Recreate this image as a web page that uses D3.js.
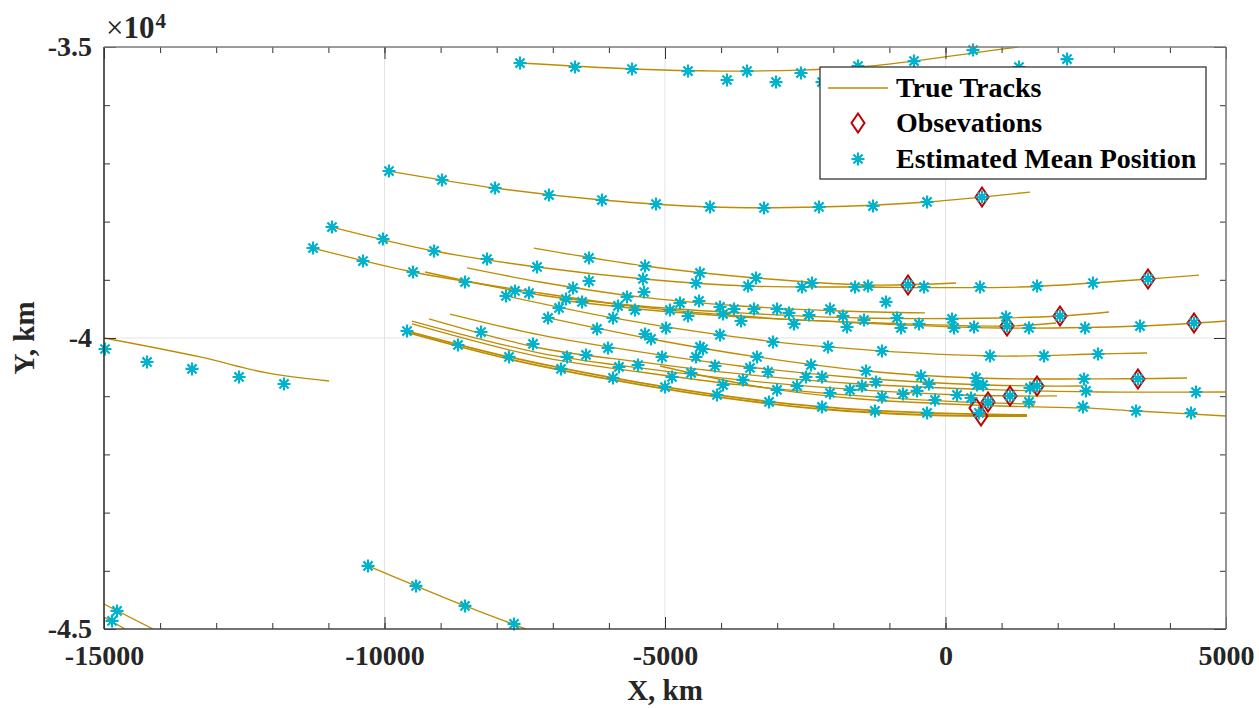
<!DOCTYPE html>
<html><head><meta charset="utf-8">
<script src="https://cdn.jsdelivr.net/npm/d3@7"></script>
<style>body{margin:0;background:#fff} svg{display:block}</style>
</head><body>
<svg id="chart" width="1259" height="708"></svg>
<script>
// ---------- axis data ----------
const xDomain = [-15000, 5000];
const yDomain = [-45000, -35000];
const xMajorTicks = [-15000, -10000, -5000, 0, 5000];
const xTickLabels = ["-15000", "-10000", "-5000", "0", "5000"];
const yMajorTicks = [-45000, -40000, -35000];
const yTickLabels = ["-4.5", "-4", "-3.5"];
const xMinorTicks = d3.range(-15000, 5001, 1000);
const yMinorTicks = d3.range(-45000, -34999, 1000);
const gridX = [-10000, -5000, 0];
const gridY = [-40000];
const legendLabels = ["True Tracks", "Obsevations", "Estimated Mean Position"];

// ---------- true tracks (km) ----------
const trackTop = [[-7585,-35275],[-5588,-35378],[-4020,-35413],[-2576,-35396],[-1560,-35344],[-561,-35241],[490,-35104],[1292,-35000]];
const trackT2 = [[-9920,-37131],[-8030,-37423],[-6123,-37629],[-4198,-37749],[-2255,-37749],[-329,-37663],[651,-37578],[1506,-37492]];
const trackA = [[-10936,-38093],[-9117,-38505],[-7281,-38780],[-5374,-38986],[-3520,-39107],[-1613,-39124],[1328,-39124],[3610,-38986],[4519,-38918]];
const trackB = [[-7335,-38454],[-5356,-38763],[-3378,-38969],[-1381,-39089],[187,-39055]];
const trackE = [[-8529,-38797],[-7228,-39038],[-5446,-39295],[-3663,-39450],[-1880,-39536],[-365,-39570]];
const trackD = [[-9278,-38866],[-7228,-39261],[-5446,-39450],[-3663,-39570],[-1524,-39656],[972,-39656],[2041,-39622],[2914,-39553]];
const trackC = [[-11274,-38454],[-9492,-38866],[-7228,-39227],[-5446,-39467],[-3663,-39622],[-1524,-39742],[972,-39828],[3467,-39794],[5000,-39708]];
const trackR4 = [[-6871,-39347],[-5089,-39536],[-3307,-39656],[-1167,-39742],[1096,-39794],[1970,-39742]];
const trackR6 = [[-7834,-39278],[-5927,-39656],[-4020,-39948],[-2094,-40154],[793,-40309],[2718,-40275],[3592,-40258]];
const trackR7 = [[-7085,-39656],[-5249,-40017],[-3360,-40326],[-1417,-40567],[544,-40687],[2469,-40704],[4305,-40687]];
const trackJ = [[-8832,-39588],[-7228,-39948],[-5446,-40240],[-3663,-40481],[-1524,-40687],[259,-40790],[1631,-40825],[2451,-40825]];
const trackI = [[-9207,-39673],[-7228,-40172],[-5446,-40412],[-3663,-40618],[-1524,-40790],[972,-40893],[2754,-40928],[5000,-40928]];
const trackG = [[-9510,-39708],[-7228,-40258],[-5446,-40515],[-3663,-40721],[-1524,-40893],[259,-40979],[1132,-40996],[1988,-40996]];
const trackH = [[-9510,-39759],[-7228,-40326],[-5446,-40584],[-3663,-40807],[-1524,-40996],[259,-41099],[1595,-41134]];
const trackF1 = [[-9599,-39880],[-7781,-40326],[-5927,-40687],[-4073,-40979],[-2201,-41185],[-329,-41288],[1453,-41323]];
const trackF2 = [[-9563,-39914],[-7781,-40361],[-5927,-40721],[-4073,-41013],[-2201,-41220],[-329,-41323],[1453,-41340]];
const trackR12 = [[-5089,-40481],[-3307,-40842],[-1524,-41048],[972,-41168],[2451,-41202],[3396,-41254],[5000,-41340]];
const trackL1 = [[-15000,-40000],[-13289,-40326],[-12094,-40601],[-10989,-40739]];
const trackBL1 = [[-15000,-44570],[-14126,-45000]];
const trackBL2 = [[-15000,-44793],[-14625,-45000]];
const trackL3 = [[-10294,-43917],[-9438,-44260],[-8565,-44604],[-7478,-45000]];

// ---------- estimated mean positions (km) ----------
const estTop = [[-7585,-35275],[-6604,-35344],[-5588,-35378],[-4590,-35413],[-3538,-35413],[-2576,-35447],[-1560,-35327],[-561,-35241],[490,-35052],[-3895,-35567],[-3021,-35602],[-2201,-35602],[1310,-35344],[2166,-35207]];
const estT2 = [[-9920,-37131],[-8975,-37285],[-8030,-37423],[-7068,-37543],[-6123,-37629],[-5160,-37698],[-4198,-37749],[-3235,-37766],[-2255,-37749],[-1292,-37732],[-329,-37663],[651,-37578]];
const estLeft = [[-14982,-40189],[-14233,-40412],[-13431,-40532],[-12593,-40670],[-11791,-40790],[-14768,-44690],[-14857,-44862],[-10294,-43917],[-9438,-44260],[-8565,-44604],[-7691,-44913]];
const estUpperWest = [[-10936,-38093],[-10027,-38299],[-9117,-38505],[-8173,-38643],[-7281,-38780],[-11274,-38454],[-10383,-38677],[-9492,-38866],[-8565,-39038],[-7834,-39278],[-7674,-39192],[-7424,-39227],[-6355,-38625],[-5356,-38763],[-4376,-38883],[-3378,-38969],[-6355,-39021],[-6640,-39141],[-5392,-38986],[-5374,-39210],[-4447,-39055],[-3520,-39107],[-6765,-39330],[-6479,-39381],[-6889,-39484],[-5677,-39295],[-5838,-39450],[-5535,-39519],[-4733,-39399],[-4394,-39364],[-4911,-39519],[-4590,-39622],[-4020,-39467],[-3966,-39588],[-3770,-39502],[-3645,-39708],[-3413,-39502],[-3003,-39502],[-7085,-39656],[-6212,-39845],[-5927,-39656],[-4982,-39828],[-5356,-39931],[-5249,-40017],[-4020,-39948],[-3075,-40069]];
const estUpperEast = [[-2558,-39124],[-2380,-39055],[-1613,-39124],[-1381,-39107],[-668,-39089],[-383,-39124],[615,-39124],[-1061,-39381],[-2790,-39570],[-2433,-39605],[-2059,-39502],[-2700,-39759],[-1827,-39622],[-1756,-39811],[-1453,-39691],[-864,-39656],[-793,-39828],[-472,-39759],[116,-39673],[152,-39828],[508,-39811],[1078,-39639],[1096,-39794],[1488,-39828],[1631,-39107],[2041,-39622],[2487,-39828],[2629,-39055],[3467,-39794],[3610,-38986],[4430,-39742]];
const estLowerWest = [[-9599,-39880],[-8690,-40120],[-8280,-39897],[-7781,-40326],[-7353,-40103],[-6747,-40326],[-6408,-40292],[-6016,-40172],[-6854,-40532],[-5820,-40498],[-5481,-40464],[-5053,-40326],[-4376,-40154],[-4323,-40189],[-4447,-40326],[-4109,-40481],[-5927,-40687],[-4875,-40670],[-5000,-40842],[-4536,-40601],[-3966,-40807],[-3610,-40721],[-3485,-40515],[-3360,-40326],[-3164,-40584],[-4073,-40979],[-3146,-41099],[-3003,-40893]];
const estLowerEast = [[-2094,-40154],[-1132,-40223],[793,-40309],[-2397,-40464],[-2487,-40670],[-2201,-40670],[-1417,-40567],[-1239,-40756],[-436,-40653],[-294,-40790],[-1488,-40825],[-1702,-40893],[-2059,-40945],[-2647,-40825],[-2201,-41185],[-1257,-41254],[-1132,-41013],[-757,-40962],[-507,-40910],[-187,-41065],[-329,-41288],[205,-40979],[455,-41031],[544,-40687],[562,-40807],[669,-40807],[758,-41099],[597,-41288],[1150,-40996],[1756,-40309],[2718,-40275],[2469,-40704],[3431,-40704],[1631,-40825],[1506,-40859],[2504,-40910],[4465,-40928],[1488,-41099],[2451,-41185],[3396,-41254],[4376,-41288]];

// ---------- observations (km) ----------
const observations = [[651,-37578],[-668,-39089],[3610,-38986],[2041,-39622],[1096,-39794],[4430,-39742],[3431,-40704],[1631,-40825],[1150,-40996],[758,-41099],[544,-41202],[633,-41340]];

// ---------- drawing ----------
const svg = d3.select("#chart");
const L = 104, R = 1226, T = 47, B = 629;
const x = d3.scaleLinear().domain(xDomain).range([L, R]);
const y = d3.scaleLinear().domain(yDomain).range([B, T]);
const FONT = "'Liberation Serif','Times New Roman',serif";
const TRACK = "#BF8C00", STAR = "#00B2CC", OBS = "#C00000", AX = "#333333";

svg.append("rect").attr("width", 1259).attr("height", 708).attr("fill", "#fff");
svg.append("defs").append("clipPath").attr("id", "clip")
  .append("rect").attr("x", L).attr("y", T).attr("width", R - L).attr("height", B - T);

// grid
const grid = svg.append("g").attr("stroke", "#e3e3e3").attr("stroke-width", 1);
grid.selectAll(".gx").data(gridX).join("line")
  .attr("x1", d => x(d)).attr("x2", d => x(d)).attr("y1", T).attr("y2", B);
grid.selectAll(".gy").data(gridY).join("line")
  .attr("x1", L).attr("x2", R).attr("y1", d => y(d)).attr("y2", d => y(d));

// true tracks
const trueTracks = [trackTop, trackT2, trackA, trackB, trackE, trackD, trackC, trackR4, trackR6, trackR7,
  trackJ, trackI, trackG, trackH, trackF1, trackF2, trackR12, trackL1, trackBL1, trackBL2, trackL3];
const line = d3.line().x(d => x(d[0])).y(d => y(d[1])).curve(d3.curveCatmullRom.alpha(0.5));
svg.append("g").attr("clip-path", "url(#clip)")
  .selectAll("path").data(trueTracks).join("path")
  .attr("d", line).attr("fill", "none").attr("stroke", TRACK)
  .attr("stroke-width", d => (d === trackF1 || d === trackF2) ? 1.8 : 1.3);

// markers
const r = 6.5, dd = r * 0.7071;
const starPath = `M${-r},0L${r},0M0,${-r}L0,${r}M${-dd},${-dd}L${dd},${dd}M${-dd},${dd}L${dd},${-dd}`;
const diaPath = "M0,-9.5L6.5,0L0,9.5L-6.5,0Z";

svg.append("g").selectAll("path").data(observations).join("path")
  .attr("transform", d => `translate(${x(d[0])},${y(d[1])})`)
  .attr("d", diaPath).attr("fill", "none").attr("stroke", OBS).attr("stroke-width", 2);

const estimates = [].concat(estTop, estT2, estLeft, estUpperWest, estUpperEast, estLowerWest, estLowerEast);
svg.append("g").selectAll("path").data(estimates).join("path")
  .attr("transform", d => `translate(${x(d[0])},${y(d[1])})`)
  .attr("d", starPath).attr("fill", "none").attr("stroke", STAR).attr("stroke-width", 2.2);

// axes (inward ticks, MATLAB-like box)
function styleAxis(g) {
  g.select(".domain").remove();
  g.selectAll(".tick line").attr("stroke", AX).attr("stroke-width", 1);
  g.selectAll("text").attr("font-family", FONT).attr("font-weight", "bold")
    .attr("font-size", 28).attr("fill", "#262626");
}
svg.append("g").attr("transform", `translate(0,${B})`)
  .call(d3.axisBottom(x).tickValues(xMinorTicks).tickSize(-6).tickFormat("")).call(styleAxis);
svg.append("g").attr("transform", `translate(0,${B})`)
  .call(d3.axisBottom(x).tickValues(xMajorTicks).tickSize(-12).tickPadding(16)
    .tickFormat((d, i) => xTickLabels[i])).call(styleAxis);
svg.append("g").attr("transform", `translate(0,${T})`)
  .call(d3.axisTop(x).tickValues(xMinorTicks).tickSize(-6).tickFormat("")).call(styleAxis);
svg.append("g").attr("transform", `translate(0,${T})`)
  .call(d3.axisTop(x).tickValues(xMajorTicks).tickSize(-12).tickFormat("")).call(styleAxis);
svg.append("g").attr("transform", `translate(${L},0)`)
  .call(d3.axisLeft(y).tickValues(yMinorTicks).tickSize(-6).tickFormat("")).call(styleAxis);
svg.append("g").attr("transform", `translate(${L},0)`)
  .call(d3.axisLeft(y).tickValues(yMajorTicks).tickSize(-12).tickPadding(12)
    .tickFormat((d, i) => yTickLabels[i])).call(styleAxis);
svg.append("g").attr("transform", `translate(${R},0)`)
  .call(d3.axisRight(y).tickValues(yMinorTicks).tickSize(-6).tickFormat("")).call(styleAxis);
svg.append("g").attr("transform", `translate(${R},0)`)
  .call(d3.axisRight(y).tickValues(yMajorTicks).tickSize(-12).tickFormat("")).call(styleAxis);

// box
svg.append("line").attr("x1", L).attr("x2", R).attr("y1", B).attr("y2", B).attr("stroke", "#444").attr("stroke-width", 1.6);
svg.append("line").attr("x1", L).attr("x2", L).attr("y1", T).attr("y2", B).attr("stroke", "#333").attr("stroke-width", 1.6);
svg.append("line").attr("x1", L).attr("x2", R).attr("y1", T).attr("y2", T).attr("stroke", "#7a7a7a").attr("stroke-width", 1.6);
svg.append("line").attr("x1", R).attr("x2", R).attr("y1", T).attr("y2", B).attr("stroke", "#7a7a7a").attr("stroke-width", 1.6);

// exponent label
const expo = svg.append("text").attr("x", 106).attr("y", 38)
  .attr("font-family", FONT).attr("font-size", 31).attr("fill", "#262626");
expo.append("tspan").text("\u00D7").attr("font-weight", "normal");
expo.append("tspan").text("10").attr("font-weight", "bold");
expo.append("tspan").text("4").attr("font-size", 21).attr("dy", -10).attr("dx", 1).attr("font-weight", "bold");

// axis titles
svg.append("text").attr("x", (L + R) / 2).attr("y", 700).attr("text-anchor", "middle")
  .attr("font-family", FONT).attr("font-weight", "bold").attr("font-size", 29).attr("fill", "#262626")
  .text("X, km");
svg.append("text").attr("transform", `translate(34,${(T + B) / 2}) rotate(-90)`).attr("text-anchor", "middle")
  .attr("font-family", FONT).attr("font-weight", "bold").attr("font-size", 29).attr("fill", "#262626")
  .text("Y, km");

// legend
const lg = svg.append("g");
lg.append("rect").attr("x", 820).attr("y", 67).attr("width", 386).attr("height", 112)
  .attr("fill", "#fff").attr("stroke", "#262626").attr("stroke-width", 1.2);
const rowsY = [88, 123, 159];
lg.append("line").attr("x1", 828).attr("x2", 888).attr("y1", rowsY[0]).attr("y2", rowsY[0])
  .attr("stroke", TRACK).attr("stroke-width", 1.3);
lg.append("path").attr("transform", `translate(858,${rowsY[1]})`).attr("d", diaPath)
  .attr("fill", "none").attr("stroke", OBS).attr("stroke-width", 2);
lg.append("path").attr("transform", `translate(858,${rowsY[2]})`).attr("d", starPath)
  .attr("fill", "none").attr("stroke", STAR).attr("stroke-width", 2.2);
lg.selectAll("text.lab").data(legendLabels).join("text")
  .attr("x", 896).attr("y", (d, i) => rowsY[i] + 9)
  .attr("font-family", FONT).attr("font-weight", "bold").attr("font-size", 28).attr("fill", "#000")
  .text(d => d);
</script>
</body></html>
